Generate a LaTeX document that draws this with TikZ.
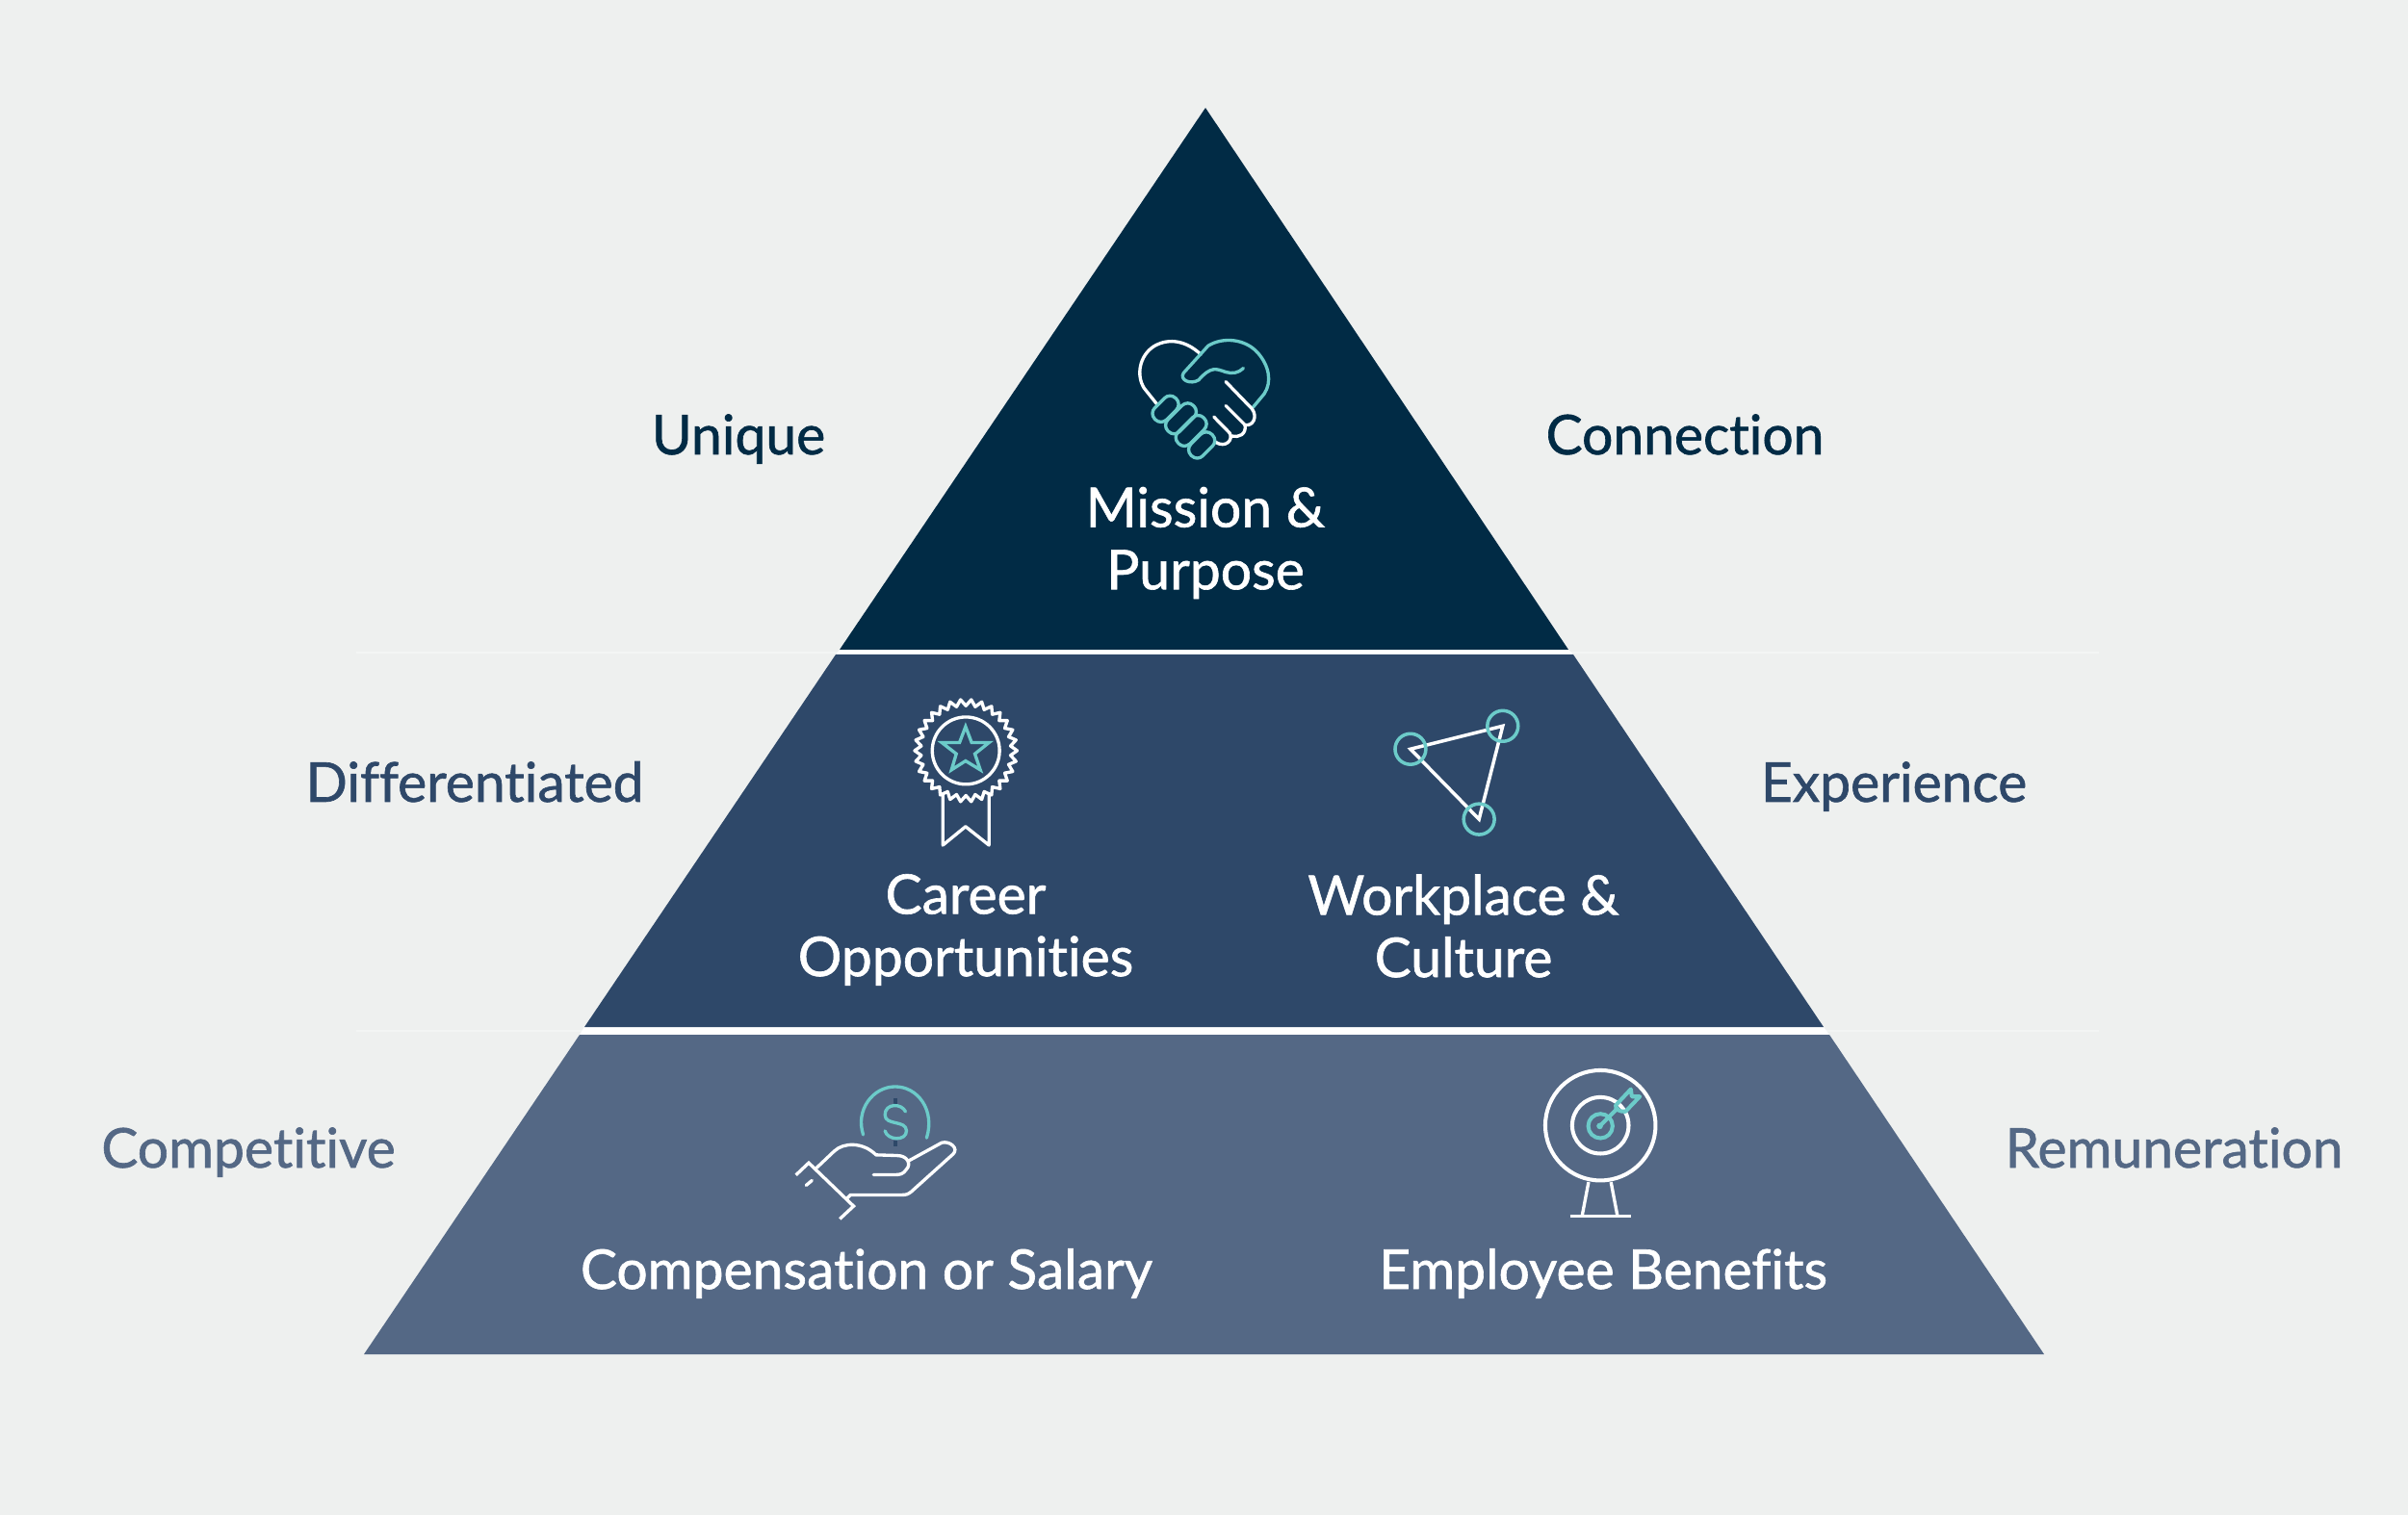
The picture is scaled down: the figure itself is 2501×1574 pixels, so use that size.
\documentclass[tikz,border=0pt]{standalone}
\usepackage{fontspec}
\setmainfont{Lato}[FakeBold=1.1,Ligatures=NoCommon]
\definecolor{pagebg}{HTML}{EEF0EF}
\definecolor{tiertop}{HTML}{012B45}
\definecolor{tiermid}{HTML}{2E4869}
\definecolor{tierlow}{HTML}{546885}
\definecolor{iconteal}{HTML}{6CCBC9}
\tikzset{
    tierlabel/.style={white,font=\fontsize{16.2}{18.4}\selectfont,align=center},
    sidelabel/.style={font=\fontsize{16.2}{18.4}\selectfont,anchor=base},
    iconbox/.style={x=0.003333cm,y=-0.003333cm,line width=0.95pt,line join=round,line cap=round},
}

\begin{document}
\begin{tikzpicture}[x=0.01cm,y=-0.01cm]
    \fill[pagebg] (0,0) rectangle (2501,1574);
    \useasboundingbox (0,0) rectangle (2501,1574);
    \draw[white,opacity=0.35,line width=0.5pt] (370,678) -- (2180,678);
    \draw[white,opacity=0.35,line width=0.5pt] (370,1071) -- (2180,1071);

    % pyramid
    \coordinate (apex) at (1252,112);
    \coordinate (topl) at (872,675);
    \coordinate (topr) at (1629,675);
    \coordinate (midtl) at (868,680);
    \coordinate (midtr) at (1634,680);
    \coordinate (midbl) at (607,1067);
    \coordinate (midbr) at (1894,1067);
    \coordinate (lowtl) at (602,1075);
    \coordinate (lowtr) at (1900,1075);
    \coordinate (lowbl) at (378,1407);
    \coordinate (lowbr) at (2123,1407);
    \fill[white] (topl) -- (topr) -- (midtr) -- (midtl) -- cycle;
    \fill[white] (midbl) -- (midbr) -- (lowtr) -- (lowtl) -- cycle;
    \fill[tiertop] (apex) -- (topr) -- (topl) -- cycle;
    \fill[tiermid] (midtl) -- (midtr) -- (midbr) -- (midbl) -- cycle;
    \fill[tierlow] (lowtl) -- (lowtr) -- (lowbr) -- (lowbl) -- cycle;

    % side labels
    \node[sidelabel,tiertop] (unique) at (767,472) {Unique};
    \node[sidelabel,tiertop] (connection) at (1750,472) {Connection};
    \node[sidelabel,tiermid] (differentiated) at (493,833) {Differentiated};
    \node[sidelabel,tiermid] (experience) at (1967,833) {Experience};
    \node[sidelabel,tierlow] (competitive) at (258,1213) {Competitive};
    \node[sidelabel,tierlow] (remuneration) at (2258,1213) {Remuneration};

    % tier labels
    \node[tierlabel] (mission) at (1252,564) {Mission \&\\Purpose};
    \node[tierlabel] (career) at (1003,966) {Career\\Opportunities};
    \node[tierlabel] (workplace) at (1520,962) {Workplace \&\\Culture};
    \node[tierlabel] (compensation) at (900,1323) {Compensation or Salary};
    \node[tierlabel] (benefits) at (1665,1323) {Employee Benefits};

    % handshake
    \begin{scope}[shift={(1130,320)},iconbox]
        \draw[white] (215,300) -- (175,250) .. controls (150,210) and (160,150) .. (205,120)
            .. controls (255,90) and (310,105) .. (352,145);
        \draw[iconteal] (515,310) -- (550,268) .. controls (575,230) and (565,180) .. (530,140)
            .. controls (490,95) and (420,90) .. (375,118) -- (298,203)
            .. controls (285,225) and (320,240) .. (345,225)
            .. controls (385,180) and (400,190) .. (430,200) .. controls (450,206) and (470,203) .. (485,188);
        \draw[white] (430,230) -- (512,315) .. controls (530,340) and (515,370) .. (490,365) -- (430,305);
        \draw[white] (490,365) .. controls (495,395) and (470,405) .. (450,400);
        \draw[white] (393,340) -- (442,390) .. controls (455,410) and (430,440) .. (397,418);
        \foreach \cx/\cy/\len in {242/315/92,290/345/112,322/383/112,355/428/92}
            \draw[iconteal,rounded corners=2.3pt,rotate around={45:(\cx,\cy)}]
                (\cx-\len/2,\cy-26) rectangle (\cx+\len/2,\cy+26);
    \end{scope}

    % rosette
    \begin{scope}[shift={(920,710)},iconbox]
        \draw[white] plot[samples at={0,...,59}] ({250+(150+10*pow(-1,\x))*cos(6*\x)},{210+(150+10*pow(-1,\x))*sin(6*\x)}) -- cycle;
        \draw[white] (250,210) circle (105);
        \draw[white] (178,345) -- (178,505) -- (249,447) -- (322,505) -- (322,345);
        \draw[iconteal,miter limit=5,line join=miter] (249,135) -- (268,185) -- (322,185) -- (278,220) -- (295,270)
            -- (249,242) -- (205,270) -- (220,220) -- (175,185) -- (230,185) -- cycle;
    \end{scope}

    % network triangle
    \begin{scope}[shift={(1420,720)},iconbox]
        \coordinate (nodea) at (135,175);
        \coordinate (nodeb) at (423,103);
        \coordinate (nodec) at (349,394);
        \draw[white,line width=1pt,line join=miter] (nodea) -- (nodeb) -- (nodec) -- cycle;
        \foreach \p in {nodea,nodeb,nodec}
            \draw[iconteal,line width=1pt] (\p) circle (48);
    \end{scope}

    % hand and coin
    \begin{scope}[shift={(810,1110)},iconbox]
        \draw[iconteal] (260,207) .. controls (235,130) and (290,57) .. (360,57) .. controls (430,57) and (485,130) .. (458,217);
        \draw[tiermid,line cap=butt,line width=1.1pt] (360,93) -- (360,110);
        \draw[tiermid,line cap=butt,line width=1.1pt] (360,226) -- (360,242);
        \draw[iconteal] (392,135) .. controls (380,108) and (328,108) .. (328,145)
            .. controls (328,180) and (395,160) .. (395,195) .. controls (395,228) and (335,225) .. (328,195);
        \draw[white] (115,310) -- (170,258) .. controls (200,230) and (260,230) .. (300,270) -- (365,272)
            .. controls (400,272) and (410,300) .. (395,315) .. controls (385,330) and (375,332) .. (360,332) -- (292,332);
        \draw[white] (403,288) -- (505,232) .. controls (530,225) and (560,250) .. (540,268) -- (410,385)
            .. controls (400,393) and (395,395) .. (380,395) -- (220,395) -- (210,405);
        \draw[white,line cap=butt,line join=miter] (50,333) -- (90,295) -- (230,430) -- (187,470);
        \draw[white] (82,365) -- (100,350);
    \end{scope}

    % target
    \begin{scope}[shift={(1580,1090)},iconbox]
        \draw[white,line width=1.15pt] (247,238) circle (172);
        \draw[white,line width=1.15pt] (247,238) circle (88);
        \draw[white,line cap=butt] (210,415) -- (190,520);
        \draw[white,line cap=butt] (280,415) -- (300,520);
        \draw[white,line cap=butt] (152,522) -- (343,522);
        \draw[iconteal,line width=1.15pt] (247,240) circle (38);
        \fill[iconteal] (245,240) circle (10);
        \draw[iconteal,line width=1.15pt] (245,240) -- (300,185);
        \draw[iconteal,line width=1.15pt] (295,175) -- (342,125) -- (345,148) -- (370,148) -- (325,195) .. controls (310,195) and (290,190) .. cycle;
    \end{scope}
\end{tikzpicture}
\end{document}
